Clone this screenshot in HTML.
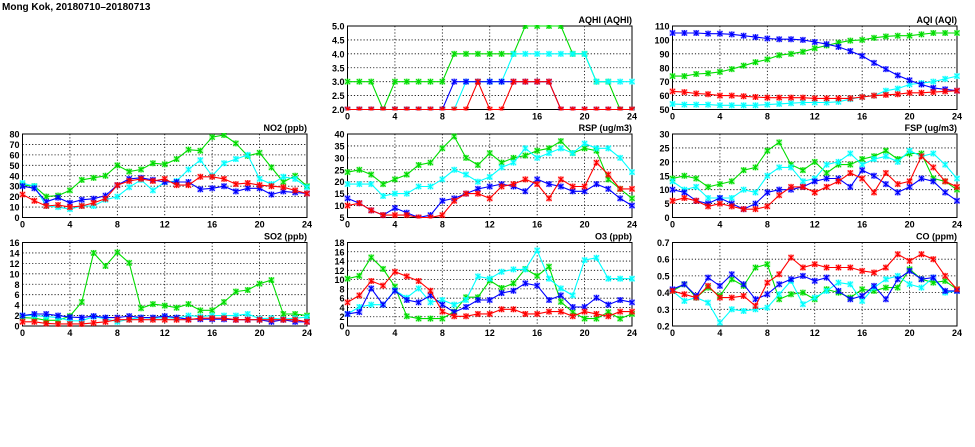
<!DOCTYPE html>
<html><head><meta charset="utf-8"><style>
body{margin:0;background:#fff;}
svg{display:block;font-family:"Liberation Sans",sans-serif;}
</style></head><body>
<svg id="c" width="975" height="447">
<text x="2" y="10" font-size="10" font-weight="bold">Mong Kok, 20180710–20180713</text>
</svg>
<script>
const hours = [0,1,2,3,4,5,6,7,8,9,10,11,12,13,14,15,16,17,18,19,20,21,22,23,24];
const xTicks = [0,4,8,12,16,20,24];
const seriesColors = ["#00dd00","#00ffff","#0000ff","#ff0000"];
const seriesNames = ["green","cyan","blue","red"];

const aqhiGreen=[3,3,3,2,3,3,3,3,3,4,4,4,4,4,4,5,5,5,5,4,4,3,3,2,2];
const aqhiCyan=[2,2,2,2,2,2,2,2,2,2,3,3,3,3,4,4,4,4,4,4,4,3,3,3,3];
const aqhiBlue=[2,2,2,2,2,2,2,2,2,3,3,3,3,3,3,3,3,3,2,2,2,2,2,2,2];
const aqhiRed=[2,2,2,2,2,2,2,2,2,2,2,3,2,2,3,3,3,3,2,2,2,2,2,2,2];
const aqhiTicks=["2.0","2.5","3.0","3.5","4.0","4.5","5.0"];

const aqiGreen=[74,74,75.5,76,77,79,81.5,84,86,89,90,91.5,94,96,98,99.5,100,101.5,102.5,103,103,104,105,105,105];
const aqiCyan=[54,53.5,53.5,53.5,53,53,53,53,53.5,54,54.5,55,55,55,55.5,57.5,59,60,63.5,65,68,69,70,72,74];
const aqiBlue=[105,105,105,104.5,104.5,104,103,102,101,100.5,100.5,100,98.5,97,95,92,88.5,83.5,79,74.5,71,68,65.5,64.5,63.5];
const aqiRed=[63,62.5,61.5,61,60,60,59.5,59,58.5,58.5,58.5,58.5,58,58,58,58,59,60,60.5,61,62,62,62.5,63,63.5];
const aqiTicks=["50","60","70","80","90","100","110"];

const no2Green=[31,30,20,21,26,36,38,40,50,44,46,52,51,56,65,64,77,79,71,59,62,48,34,40,30];
const no2Cyan=[33,30,11,10,8,11,11,17,20,29,36,26,34,35,46,55,40,52,56,60,37,32,39,37,29];
const no2Blue=[30,28,15,19,14,17,18,21,31,37,38,36,34,34,34,27,28,30,25,28,28,22,25,24,23];
const no2Red=[22,16,11,12,10,11,14,18,31,35,37,35,37,31,31,39,39,37,32,33,31,30,29,26,23];
const no2Ticks=["0","10","20","30","40","50","60","70","80"];

const rspGreen=[24,25,23,19,21,23,27,28,34,39,30,27,32,28,30,31,33,34,37,32,34,33,21,17,13];
const rspCyan=[19,19,19,14,15,15,18,18,21,25,23,20,22,26,28,34,30,32,34,32,36,34,34,30,24];
const rspBlue=[13,11,8,6,9,7,5,6,12,13,15,17,18,19,18,16,21,19,18,16,16,19,17,13,10];
const rspRed=[10,11,8,6,6,6,5,5,6,12,15,15,13,18,19,21,19,13,21,18,18,28,23,17,17];
const rspTicks=["5","10","15","20","25","30","35","40"];

const fspGreen=[14,15,14,11,12,13,17,18,24,27,19,17,20,16,19,19,21,22,24,21,23,23,14,13,10];
const fspCyan=[13,10,11,7,7,7,10,9,15,18,18,13,14,19,20,23,19,21,22,20,24,22,23,19,14];
const fspBlue=[10,9,6,5,7,5,3,5,9,10,10,11,13,14,14,11,17,15,12,9,11,14,13,9,6];
const fspRed=[6,7,6,4,5,4,3,3,4,8,11,11,9,11,13,16,14,9,16,12,13,22,18,13,11];
const fspTicks=["0","5","10","15","20","25","30"];

const so2Green=[1.6,1.5,1.1,1.1,1.9,4.6,14,11.5,14.1,12.1,3.4,4.2,3.9,3.5,4.2,3.0,3.0,4.6,6.6,6.9,8.1,8.8,2.3,2.3,2.0];
const so2Cyan=[2.0,2.0,1.8,1.6,1.0,1.0,1.8,1.4,0.8,1.3,1.6,1.5,1.6,1.5,2.0,1.8,2.0,2.0,2.0,2.3,1.4,1.5,1.3,1.5,1.7];
const so2Blue=[2.0,2.3,2.3,2.0,1.7,1.6,1.9,1.6,1.6,1.9,1.6,1.6,1.9,1.6,1.3,1.3,1.3,1.3,1.2,1.2,1.2,0.8,1.2,0.8,0.8];
const so2Red=[0.8,0.8,0.5,0.4,0.4,0.4,0.6,0.8,1.2,1.2,1.2,1.2,1.2,1.2,1.2,1.5,1.5,1.5,1.2,1.2,1.2,1.2,1.2,1.2,0.8];
const so2Ticks=["0","2","4","6","8","10","12","14","16"];

const o3Green=[10.2,10.8,14.8,12.3,8.5,2.1,1.6,1.6,1.6,3.1,6.2,6.2,9.8,8.2,9.2,12.3,10.8,12.8,5.2,3.0,1.6,1.6,3.0,1.6,2.6];
const o3Cyan=[2.6,4.1,4.6,4.6,7.7,6.1,8.1,5.1,5.6,4.6,5.6,10.7,10.2,11.7,12.2,12.2,16.3,10.2,8.1,6.6,14.2,14.7,10.2,10.2,10.2];
const o3Blue=[2.6,3.0,8.1,4.6,7.6,5.6,5.1,6.6,4.6,3.0,4.1,5.6,5.6,7.1,7.6,9.2,8.7,5.6,6.6,4.1,4.1,6.1,4.6,5.6,5.1];
const o3Red=[5.1,6.6,9.7,8.7,11.7,10.7,9.7,7.6,3.1,2.1,2.1,2.6,2.6,3.6,3.6,2.6,2.6,3.1,3.1,2.1,3.1,2.6,2.1,3.1,3.1];
const o3Ticks=["0","2","4","6","8","10","12","14","16","18"];

const coGreen=[0.41,0.45,0.37,0.43,0.38,0.48,0.44,0.55,0.57,0.36,0.39,0.40,0.36,0.42,0.40,0.37,0.42,0.41,0.43,0.43,0.54,0.48,0.46,0.47,0.42];
const coCyan=[0.41,0.35,0.37,0.34,0.22,0.30,0.29,0.30,0.31,0.39,0.47,0.33,0.37,0.41,0.46,0.45,0.35,0.43,0.48,0.50,0.45,0.43,0.49,0.40,0.41];
const coBlue=[0.42,0.45,0.38,0.49,0.44,0.51,0.45,0.36,0.39,0.45,0.48,0.50,0.47,0.49,0.41,0.36,0.38,0.44,0.36,0.48,0.53,0.48,0.49,0.41,0.41];
const coRed=[0.41,0.39,0.37,0.44,0.37,0.37,0.38,0.32,0.46,0.51,0.61,0.55,0.57,0.55,0.55,0.55,0.53,0.52,0.55,0.63,0.59,0.63,0.60,0.50,0.42];
const coTicks=["0.2","0.3","0.4","0.5","0.6","0.7"];

const NS="http://www.w3.org/2000/svg";
const svg=document.getElementById('c');
function mk(tag,attrs,parent){const e=document.createElementNS(NS,tag);for(const k in attrs)e.setAttribute(k,attrs[k]);(parent||svg).appendChild(e);return e;}

const panels=[
 {id:"aqhi",title:"AQHI (AQHI)",col:1,row:0,ticks:aqhiTicks,s:[aqhiGreen,aqhiCyan,aqhiBlue,aqhiRed]},
 {id:"aqi",title:"AQI (AQI)",col:2,row:0,ticks:aqiTicks,s:[aqiGreen,aqiCyan,aqiBlue,aqiRed]},
 {id:"no2",title:"NO2 (ppb)",col:0,row:1,ticks:no2Ticks,s:[no2Green,no2Cyan,no2Blue,no2Red]},
 {id:"rsp",title:"RSP (ug/m3)",col:1,row:1,ticks:rspTicks,s:[rspGreen,rspCyan,rspBlue,rspRed]},
 {id:"fsp",title:"FSP (ug/m3)",col:2,row:1,ticks:fspTicks,s:[fspGreen,fspCyan,fspBlue,fspRed]},
 {id:"so2",title:"SO2 (ppb)",col:0,row:2,ticks:so2Ticks,s:[so2Green,so2Cyan,so2Blue,so2Red]},
 {id:"o3",title:"O3 (ppb)",col:1,row:2,ticks:o3Ticks,s:[o3Green,o3Cyan,o3Blue,o3Red]},
 {id:"co",title:"CO (ppm)",col:2,row:2,ticks:coTicks,s:[coGreen,coCyan,coBlue,coRed]}
];
const colL=[22.5,347.5,672.5], W=284.5;
const rowT=[26,134,242.5], H=83.5;

panels.forEach(p=>{
 const L=colL[p.col],T=rowT[p.row],R=L+W,B=T+H;
 const tv=p.ticks.map(Number);
 const y0=tv[0],y1=tv[tv.length-1];
 const xs=v=>L+v/24*W;
 const ys=v=>B-(v-y0)/(y1-y0)*H;
 const g=mk('g',{});
 
 
 p.ticks.forEach((t,i)=>{
  const y=ys(Number(t));
  if(i>0&&i<p.ticks.length-1){const l=mk('line',{x1:L,x2:R,y1:y,y2:y,stroke:'#000','stroke-width':0.8,'stroke-dasharray':'1.2,2'},g);}
  const tx=mk('text',{x:L-3,y:y+3.5,'font-size':9,'font-weight':'bold','text-anchor':'end'},g);
  tx.textContent=t;
  
  
 });
 xTicks.forEach((t,i)=>{
  const x=xs(t);
  if(i>0&&i<xTicks.length-1){const l=mk('line',{x1:x,x2:x,y1:T,y2:B,stroke:'#000','stroke-width':0.8,'stroke-dasharray':'1.2,2'},g);}
  const tx=mk('text',{x:x,y:B+10,'font-size':9,'font-weight':'bold','text-anchor':'middle'},g);
  tx.textContent=t;
  
  
 });
 const fr=mk('rect',{x:L,y:T,width:W,height:H,fill:'none',stroke:'#000','stroke-width':1},g);
 
 
 const tt=mk('text',{x:R,y:T-3,'font-size':9,'font-weight':'bold','text-anchor':'end'},g);
 tt.textContent=p.title;
 
 
 const cp=mk('clipPath',{id:'cp'+p.id},g);
 mk('rect',{x:L-4,y:T-1,width:W+8,height:H+2},cp);
 p.s.forEach((vals,si)=>{
  const c=seriesColors[si];
  const sg=mk('g',{'clip-path':'url(#cp'+p.id+')'},g);
  
  
  const pts=vals.map((v,i)=>xs(hours[i]).toFixed(1)+','+ys(v).toFixed(1)).join(' ');
  const pl=mk('polyline',{points:pts,fill:'none',stroke:c,'stroke-width':1.1},sg);
  
  
  vals.forEach((v,i)=>{
   const x=xs(hours[i]),y=ys(v);
   const m=mk('g',{},sg);
   
   
   mk('rect',{x:x-3,y:y-3,width:6,height:6,fill:c,'fill-opacity':0.3},m);
   mk('path',{d:`M${x-2.5} ${y-2.5}L${x+2.5} ${y+2.5}M${x-2.5} ${y+2.5}L${x+2.5} ${y-2.5}M${x} ${y-3}L${x} ${y+3}`,stroke:c,'stroke-width':1.1},m);
  });
 });
});
</script>
</body></html>
